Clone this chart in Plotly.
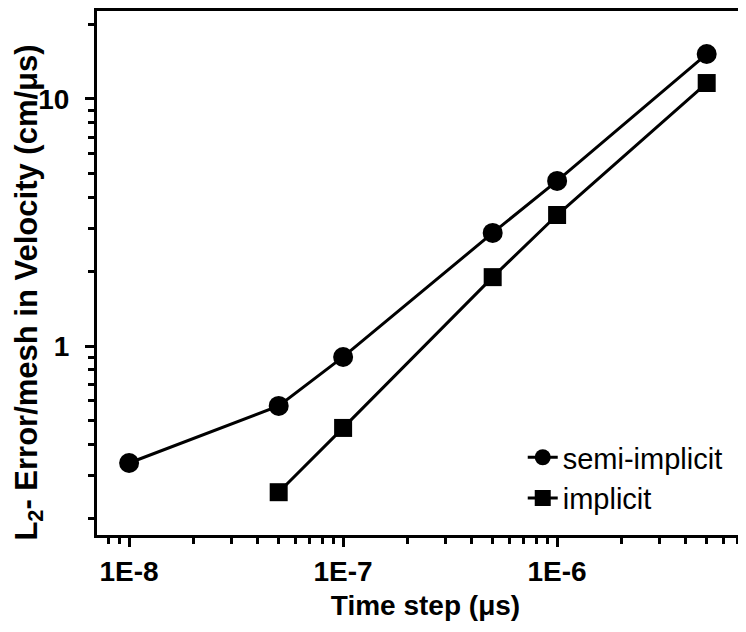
import plotly.graph_objects as go

# time steps (microseconds) and L2 error per mesh
semi_dt = [1e-8, 5e-8, 1e-7, 5e-7, 1e-6, 5e-6]
semi_err = [0.336, 0.572, 0.903, 2.87, 4.66, 15.2]

impl_dt = [5e-8, 1e-7, 5e-7, 1e-6, 5e-6]
impl_err = [0.256, 0.466, 1.90, 3.39, 11.6]

x_tickvals = [1e-8, 1e-7, 1e-6]
x_ticktext = ["1E-8", "1E-7", "1E-6"]
y_tickvals = [1, 10]
y_ticktext = ["1", "10"]

FONT = "Liberation Sans, Arial, sans-serif"

fig = go.Figure()
fig.add_trace(go.Scatter(
    x=semi_dt, y=semi_err, mode="lines+markers", name="semi-implicit",
    line=dict(color="black", width=3),
    marker=dict(symbol="circle", size=20, color="black"),
))
fig.add_trace(go.Scatter(
    x=impl_dt, y=impl_err, mode="lines+markers", name="implicit",
    line=dict(color="black", width=3),
    marker=dict(symbol="square", size=18, color="black"),
))

axis_common = dict(
    type="log",
    ticks="outside", ticklen=9, tickwidth=2.5, tickcolor="black",
    minor=dict(ticks="outside", ticklen=6, tickwidth=2.5, tickcolor="black",
               dtick="D1", showgrid=False),
    showline=True, linewidth=3, linecolor="black",
    showgrid=False, zeroline=False,
    tickfont=dict(family=FONT, size=28, color="black", weight="bold"),
)

# page body has an 8px margin, so the plot box is placed 8px up/left
fig.update_xaxes(
    range=[-8.15, -5.08], tickvals=x_tickvals, ticktext=x_ticktext, mirror=True,
    ticklabelstandoff=0,
    title=dict(text="<b>Time step (μs)</b>", font=dict(family=FONT, size=28, color="black"), standoff=10),
    **axis_common,
)
fig.update_yaxes(
    range=[-0.765, 1.356], tickvals=y_tickvals, ticktext=y_ticktext, mirror=False,
    ticklabelstandoff=10,
    **axis_common,
)

fig.add_annotation(
    text="<b>L<sub>2</sub>- Error/mesh in Velocity (cm/μs)</b>",
    xref="paper", yref="paper", x=-0.104, y=0.462,
    xanchor="center", yanchor="middle", textangle=-90, showarrow=False,
    font=dict(family=FONT, size=31, color="black"),
)

fig.update_layout(
    width=746, height=632,
    margin=dict(l=89, r=0, t=3, b=105),
    paper_bgcolor="white", plot_bgcolor="white",
    showlegend=True,
    legend=dict(x=0.648, y=0.109, xanchor="left", yanchor="middle",
                font=dict(family=FONT, size=29, color="black"),
                bgcolor="rgba(0,0,0,0)", tracegroupgap=0),
)

fig.write_html("out.html")
